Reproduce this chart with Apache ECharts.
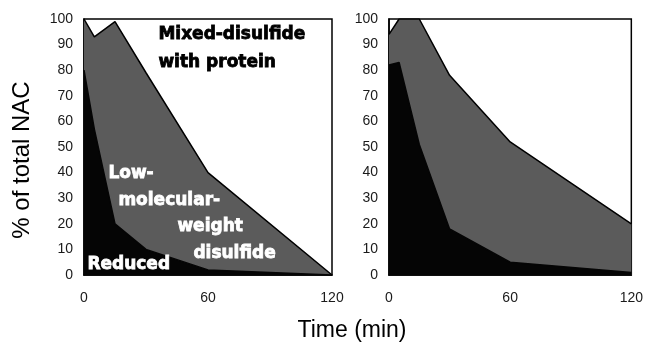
<!DOCTYPE html>
<html>
<head>
<meta charset="utf-8">
<script src="https://cdn.jsdelivr.net/npm/echarts@6/dist/echarts.min.js"></script>
<style>html,body{margin:0;padding:0;background:#fff}#c{width:646px;height:346px}</style>
</head>
<body>
<div id="c"></div>
<script>
// Left panel
const timeA = [0, 5, 15, 30, 60, 120];
const totalA = [100, 93, 99, 79, 40, 0];
const reducedA = [80, 57, 20, 10, 2, 0];
// Right panel
const timeB = [0, 5, 15, 30, 60, 120];
const totalB = [94, 100, 100, 78, 52, 20];
const reducedB = [82, 83, 51, 18, 5, 1];

const xTicks = [0, 60, 120];
const yTicks = [0, 10, 20, 30, 40, 50, 60, 70, 80, 90, 100];

const pairs = (t, v) => t.map((x, i) => [x, v[i]]);

const chart = echarts.init(document.getElementById('c'), null, {renderer: 'canvas'});
const tickFont = {fontFamily: 'Liberation Sans', fontSize: 14, color: '#1a1a1a'};
function xAx(i) {
  return {type: 'value', gridIndex: i, min: 0, max: 120, interval: 60,
    axisLine: {show: true, lineStyle: {color: '#000', width: 1.5}}, axisTick: {show: false},
    splitLine: {show: false},
    axisLabel: Object.assign({margin: 16, formatter: v => xTicks.includes(v) ? String(v) : ''}, tickFont)};
}
function yAx(i) {
  return {type: 'value', gridIndex: i, min: 0, max: 100, interval: 10,
    axisLine: {show: true, lineStyle: {color: '#000', width: 1.5}}, axisTick: {show: false},
    splitLine: {show: false},
    axisLabel: Object.assign({margin: 11, formatter: v => yTicks.includes(v) ? String(v) : ''}, tickFont)};
}
function area(i, data, color, lineColor) {
  return {type: 'line', xAxisIndex: i, yAxisIndex: i, data: data, symbol: 'none',
    lineStyle: {color: lineColor, width: 1.5}, areaStyle: {color: color, opacity: 1},
    animation: false, silent: true};
}
function txt(x, y, s, fill, glow) {
  return {type: 'text', left: x, top: y, z: 100,
    style: {text: s, fill: fill, stroke: fill, lineWidth: 0.8,
      fontFamily: 'DejaVu Sans', fontWeight: 'bold', fontSize: 17,
      shadowColor: glow ? 'rgba(255,255,255,0.8)' : 'transparent', shadowBlur: glow ? 4 : 0}};
}
chart.setOption({
  animation: false,
  grid: [
    {left: 84, top: 19, width: 248, height: 256, show: true, borderColor: '#000', borderWidth: 1.5, backgroundColor: '#fff'},
    {left: 389, top: 19, width: 247, height: 256, show: true, borderColor: '#000', borderWidth: 1.5, backgroundColor: '#fff'}
  ],
  xAxis: [xAx(0), xAx(1)],
  yAxis: [yAx(0), yAx(1)],
  series: [
    area(0, pairs(timeA, totalA), '#5b5b5b', '#000'),
    area(0, pairs(timeA, reducedA), '#050505', '#050505'),
    area(1, pairs(timeB, totalB), '#5b5b5b', '#000'),
    area(1, pairs(timeB, reducedB), '#050505', '#050505')
  ],
  graphic: [
    txt(158, 26, 'Mixed-disulfide', '#000', false),
    txt(158, 54, 'with protein', '#000', false),
    txt(108, 165, 'Low-', '#fff', true),
    txt(118, 192, 'molecular-', '#fff', true),
    txt(177, 218, 'weight', '#fff', true),
    txt(193, 245, 'disulfide', '#fff', true),
    txt(87, 256, 'Reduced', '#fff', false),
    {type: 'text', x: 22, y: 160, rotation: Math.PI / 2,
      style: {text: '% of total NAC', fill: '#000', fontFamily: 'Liberation Sans', fontSize: 24,
        textAlign: 'center', textVerticalAlign: 'middle'}},
    {type: 'text', x: 352, y: 331,
      style: {text: 'Time (min)', fill: '#000', fontFamily: 'Liberation Sans', fontSize: 23,
        textAlign: 'center', textVerticalAlign: 'middle'}}
  ]
});
</script>
</body>
</html>
